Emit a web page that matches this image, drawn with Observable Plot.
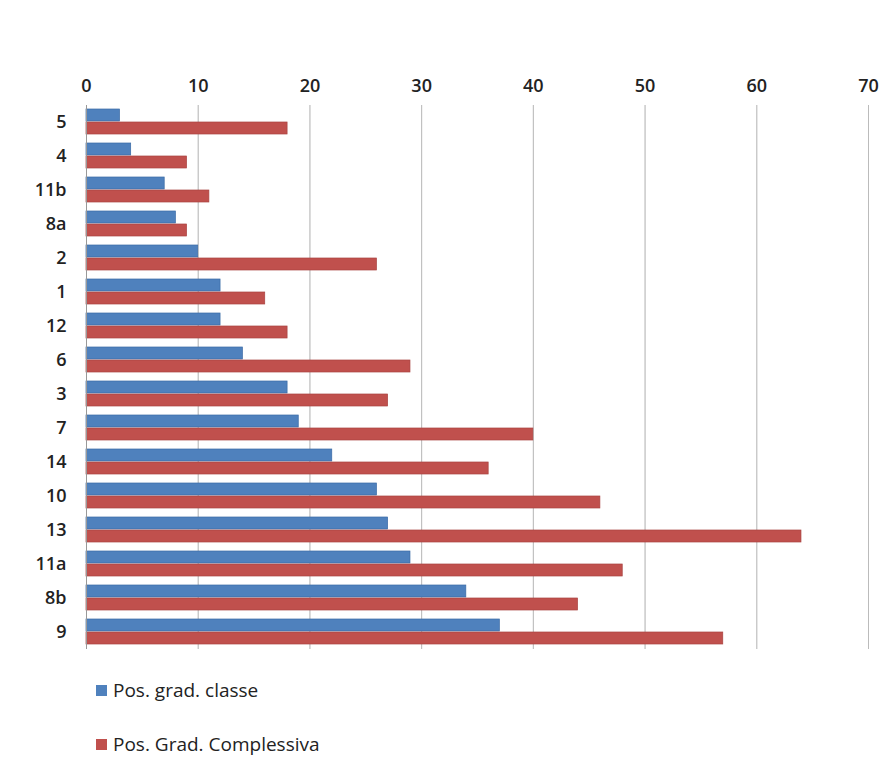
<!DOCTYPE html>
<html><head><meta charset="utf-8">
<script src="https://cdn.jsdelivr.net/npm/d3@7"></script>
<script src="https://cdn.jsdelivr.net/npm/@observablehq/plot@0.6"></script>
<style>
body{margin:0;background:#fff;font-family:"Open Sans",sans-serif;overflow:hidden;}
#c svg{display:block;}
.leg{font-size:19px;color:#222;margin-left:96px;}
.leg div{display:flex;align-items:center;height:26px;}
.sw{width:11px;height:11px;margin-right:6px;display:inline-block;}
</style></head><body>
<div id="c"></div>
<div class="leg">
<div style="margin-top:5px"><span class="sw" style="background:#4f81bd"></span>Pos. grad. classe</div>
<div style="margin-top:28px"><span class="sw" style="background:#c0504d"></span>Pos. Grad. Complessiva</div>
</div>
<script>
const categories=["5","4","11b","8a","2","1","12","6","3","7","14","10","13","11a","8b","9"];
const classe=[3,4,7,8,10,12,12,14,18,19,22,26,27,29,34,37];
const complessiva=[18,9,11,9,26,16,18,29,27,40,36,46,64,48,44,57];
const series=["Pos. grad. classe","Pos. Grad. Complessiva"];
const colors=["#4f81bd","#c0504d"];
const data=[];
categories.forEach((c,i)=>{data.push({cat:c,s:series[0],v:classe[i]});data.push({cat:c,s:series[1],v:complessiva[i]});});
const chart=Plot.plot({
 width:889,height:672,marginTop:100,marginLeft:86,marginRight:21,marginBottom:18,
 style:{fontSize:"18px",fontFamily:"Open Sans, sans-serif",color:"#222",fontWeight:"600"},
 x:{domain:[0,70],ticks:d3.range(0,71,10),axis:"top",grid:true,label:null,tickSize:0,tickPadding:14},
 fy:{domain:categories,padding:0,label:null,axis:"left",tickSize:0,tickPadding:20},
 y:{domain:series,axis:null,paddingInner:0.05,paddingOuter:0.3},
 color:{domain:series,range:colors},
 marks:[
  Plot.gridX(d3.range(0,71,10),{stroke:"#bbb",strokeOpacity:1}),
  Plot.barX(data,{fy:"cat",y:"s",x:"v",fill:"s",stroke:d=>d.s===series[0]?"#3a6aa5":"#a84340",strokeWidth:0.7}),
  Plot.ruleX([0],{stroke:"#999"})
 ]
});
document.getElementById("c").appendChild(chart);
</script>
</body></html>
